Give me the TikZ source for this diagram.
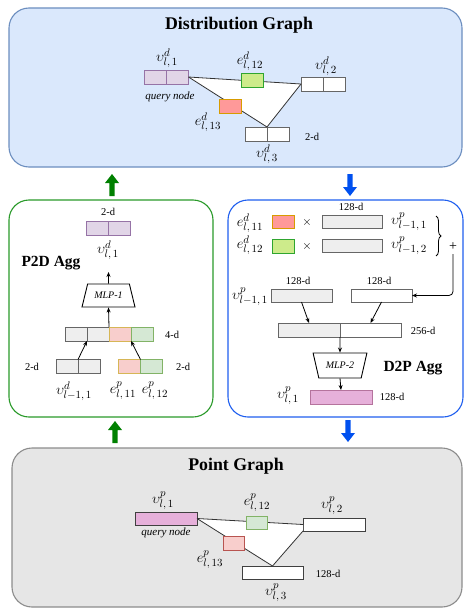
\documentclass[tikz,border=0pt]{standalone}
\usepackage{fontspec}
\setmainfont{Liberation Serif}
\usetikzlibrary{arrows.meta,shapes.geometric,decorations.pathreplacing}
\definecolor{dgfill}{HTML}{DAE8FC}
\definecolor{dgdraw}{HTML}{6C8EBF}
\definecolor{pgfill}{HTML}{E6E6E6}
\definecolor{pgdraw}{HTML}{8C8C8C}
\definecolor{purfill}{HTML}{E1D5E7}
\definecolor{purdraw}{HTML}{9673A6}
\definecolor{grnfill}{HTML}{CDEB8B}
\definecolor{grndraw}{HTML}{2FA52F}
\definecolor{redfill}{HTML}{FF9999}
\definecolor{reddraw}{HTML}{D79B00}
\definecolor{lgrfill}{HTML}{D5E8D4}
\definecolor{lgrdraw}{HTML}{82B366}
\definecolor{lrdfill}{HTML}{F8CECC}
\definecolor{lrddraw}{HTML}{B85450}
\definecolor{ylwdraw}{HTML}{D6B656}
\definecolor{gryfill}{HTML}{EEEEEE}
\definecolor{grydraw}{HTML}{666666}
\definecolor{pnkfill}{HTML}{E6B0DA}
\definecolor{pnkdraw}{HTML}{B5739D}
\definecolor{aggreen}{HTML}{2A9A2A}
\definecolor{agblue}{HTML}{1F5FEF}
\definecolor{arrgreen}{HTML}{008000}
\definecolor{arrblue}{HTML}{0050EF}
\tikzset{
  panel/.style={draw, rounded corners=20pt, line width=1.1pt, inner sep=0pt},
  cell/.style={draw, inner sep=0pt, outer sep=0pt, minimum height=14pt, line width=0.9pt},
  lbl/.style={inner sep=0pt, font=\fontsize{15}{15}\selectfont},
  dimtxt/.style={inner sep=0pt, font=\fontsize{10.5}{10.5}\selectfont},
  qtxt/.style={inner sep=0pt, font=\fontsize{11}{11}\selectfont\itshape},
  title/.style={inner sep=0pt, font=\fontsize{17.8}{17.8}\selectfont\bfseries},
  aggtitle/.style={inner sep=0pt, font=\fontsize{15.5}{15.5}\selectfont\bfseries},
  mlp/.style={draw, trapezium, trapezium stretches=true, inner sep=0pt, line width=0.9pt,
    font=\fontsize{10}{10}\selectfont\itshape},
  edgeline/.style={line width=0.8pt, draw=black!80},
  conn/.style={-{Stealth[length=5pt,width=4pt]}, line width=0.8pt},
  blockarrow/.pic={\fill (-2.6,0) -- (-2.6,-13) -- (-7,-13) -- (0,-22) -- (7,-13) -- (2.6,-13) -- (2.6,0) -- cycle;}
}
\begin{document}
\begin{tikzpicture}[x=1pt,y=-1pt]
\useasboundingbox (0,0) rectangle (473,615);

% ---------- panels ----------
\node[panel, fill=dgfill, draw=dgdraw, minimum width=453pt, minimum height=159pt] (dg) at (235.5,87.5) {};
\node[panel, draw=aggreen, fill=white, minimum width=204pt, minimum height=217pt] (p2d) at (111,308.5) {};
\node[panel, draw=agblue, fill=white, minimum width=235pt, minimum height=217pt] (d2p) at (345.5,308.5) {};
\node[panel, fill=pgfill, draw=pgdraw, minimum width=450pt, minimum height=159pt] (pg) at (237,527.5) {};

% ---------- block arrows ----------
\pic[color=arrgreen] at (112,196) {blockarrow};
\pic[color=arrblue, rotate=180] at (350,174) {blockarrow};
\pic[color=arrgreen] at (115,443) {blockarrow};
\pic[color=arrblue, rotate=180] at (348,420) {blockarrow};

% ---------- Distribution graph ----------
\node[title] (dgt) at (239,25) {Distribution Graph};
\node[cell, fill=purfill, draw=purdraw, minimum width=22pt] (dv1a) at (155.5,77) {};
\node[cell, fill=purfill, draw=purdraw, minimum width=22pt] (dv1b) at (177.5,77) {};
\node[cell, fill=white, draw=grydraw, minimum width=22pt] (dv2a) at (312,84) {};
\node[cell, fill=white, draw=grydraw, minimum width=22pt] (dv2b) at (334,84) {};
\node[cell, fill=white, draw=grydraw, minimum width=22pt] (dv3a) at (256,134) {};
\node[cell, fill=white, draw=grydraw, minimum width=22pt] (dv3b) at (278,134) {};
\fill[white] (dv1b.east) -- (dv2a.west) -- (dv3a.north east) -- cycle;
\draw[edgeline] (dv1b.east) -- (dv2a.west);
\draw[edgeline] (dv1b.east) -- (dv3a.north east);
\draw[edgeline] (dv2a.west) -- (dv3a.north east);
\node[cell, fill=grnfill, draw=grndraw, minimum width=22pt] (de12) at (252,80) {};
\node[cell, fill=redfill, draw=reddraw, minimum width=22pt] (de13) at (230,106) {};
\node[lbl] (ldv1) at (167,58) {$\upsilon^{d}_{l,\,1}$};
\node[lbl] (lde12) at (250,61) {$e^{d}_{l,\,12}$};
\node[lbl] (ldv2) at (326,66) {$\upsilon^{d}_{l,\,2}$};
\node[lbl] (lde13) at (208,122) {$e^{d}_{l,\,13}$};
\node[lbl] (ldv3) at (267,154) {$\upsilon^{d}_{l,\,3}$};
\node[dimtxt] (d2d) at (312,137) {2-d};
\node[qtxt] (dq) at (170,97) {query node};

% ---------- Point graph ----------
\node[title] (pgt) at (236,466) {Point Graph};
\node[cell, fill=pnkfill, draw=black!75, minimum width=62pt, minimum height=13pt] (pv1) at (166,518.5) {};
\node[cell, fill=white, draw=black!75, minimum width=62pt, minimum height=13pt] (pv2) at (334,524.5) {};
\node[cell, fill=white, draw=black!75, minimum width=61pt, minimum height=13pt] (pv3) at (272.5,572.5) {};
\fill[white] (pv1.east) -- (pv2.west) -- (pv2.south west) -- (pv3.north) -- cycle;
\draw[edgeline] (pv1.east) -- (pv2.west);
\draw[edgeline] (pv1.east) -- (pv3.north);
\draw[edgeline] (pv2.south west) -- (pv3.north);
\node[cell, fill=lgrfill, draw=lgrdraw, minimum width=21pt, minimum height=13pt] (pe12) at (256.5,522.5) {};
\node[cell, fill=lrdfill, draw=lrddraw, minimum width=21pt] (pe13) at (233.5,543) {};
\node[lbl] (lpv1) at (163,501) {$\upsilon^{p}_{l,\,1}$};
\node[lbl] (lpe12) at (257,503) {$e^{p}_{l,\,12}$};
\node[lbl] (lpv2) at (332,506) {$\upsilon^{p}_{l,\,2}$};
\node[lbl] (lpe13) at (210,560) {$e^{p}_{l,\,13}$};
\node[lbl] (lpv3) at (276,593) {$\upsilon^{p}_{l,\,3}$};
\node[dimtxt] (p128) at (328,574) {128-d};
\node[qtxt] (pq) at (166,533) {query node};

% ---------- P2D Agg ----------
\node[aggtitle] (p2dt) at (51,263) {P2D Agg};
\node[dimtxt] (a2d) at (108,212) {2-d};
\node[cell, fill=purfill, draw=purdraw, minimum width=22pt] (atop1) at (97,228) {};
\node[cell, fill=purfill, draw=purdraw, minimum width=22pt] (atop2) at (119,228) {};
\node[lbl] (latop) at (108,250) {$\upsilon^{d}_{l,\,1}$};
\node[mlp, minimum width=53pt, minimum height=23pt] (mlp1) at (108.5,295.5) {MLP-1};
\coordinate (mlp1out) at (108.5,272);
\node[cell, fill=gryfill, draw=grydraw, minimum width=22pt] (c1) at (76,334) {};
\node[cell, fill=gryfill, draw=grydraw, minimum width=22pt] (c2) at (98,334) {};
\node[cell, fill=lrdfill, draw=ylwdraw, minimum width=22pt] (c3) at (120,334) {};
\node[cell, fill=lgrfill, draw=lgrdraw, minimum width=22pt] (c4) at (142,334) {};
\node[dimtxt] (a4d) at (172,335) {4-d};
\node[cell, fill=gryfill, draw=grydraw, minimum width=22pt] (bl1) at (67,366.5) {};
\node[cell, fill=gryfill, draw=grydraw, minimum width=22pt] (bl2) at (89,366.5) {};
\node[cell, fill=lrdfill, draw=ylwdraw, minimum width=22pt] (br1) at (129.5,366.5) {};
\node[cell, fill=lgrfill, draw=lgrdraw, minimum width=22pt] (br2) at (151.5,366.5) {};
\node[dimtxt] (bl2d) at (32,367) {2-d};
\node[dimtxt] (br2d) at (183,367) {2-d};
\node[lbl] (lbl1) at (74,391) {$\upsilon^{d}_{l-1,\,1}$};
\node[lbl] (lbr1) at (123,391) {$e^{p}_{l,\,11}$};
\node[lbl] (lbr2) at (155,391) {$e^{p}_{l,\,12}$};
\draw[conn] (bl2.north west) -- (c1.south east);
\draw[conn] (br2.north west) -- (c3.south east);
\draw[conn] (c2.north east) -- (mlp1.south);
\draw[conn] (mlp1.north) -- (mlp1out);

% ---------- D2P Agg ----------
\node[aggtitle] (d2pt) at (413,368) {D2P Agg};
\node[dimtxt] (r128) at (351,207) {128-d};
\node[lbl] (lr1) at (250,223) {$e^{d}_{l,\,11}$};
\node[cell, fill=redfill, draw=reddraw, minimum width=22pt, minimum height=13pt] (rr1) at (283,222) {};
\node[inner sep=0pt, font=\fontsize{13}{13}\selectfont] (x1) at (307,222) {$\times$};
\node[cell, fill=gryfill, draw=grydraw, minimum width=60pt, minimum height=13pt] (rg1) at (352,221.5) {};
\node[lbl] (lrg1) at (409,222) {$\upsilon^{p}_{l-1,\,1}$};
\node[lbl] (lr2) at (250,245) {$e^{d}_{l,\,12}$};
\node[cell, fill=grnfill, draw=grndraw, minimum width=22pt] (rr2) at (283,246) {};
\node[inner sep=0pt, font=\fontsize{13}{13}\selectfont] (x2) at (307,246) {$\times$};
\node[cell, fill=gryfill, draw=grydraw, minimum width=60pt, minimum height=13pt] (rg2) at (352,246) {};
\node[lbl] (lrg2) at (409,246) {$\upsilon^{p}_{l-1,\,2}$};
\coordinate (brtop) at (436,216);
\coordinate (brbot) at (436,256);
\draw[line width=0.8pt, decorate, decoration={brace, amplitude=5pt}] (brtop) -- (brbot);
\node[inner sep=0pt, font=\fontsize{14}{14}\selectfont] (plus) at (453,247) {+};
\node[dimtxt] (s128a) at (298,281) {128-d};
\node[dimtxt] (s128b) at (379,281) {128-d};
\node[lbl] (lsg) at (250,297) {$\upsilon^{p}_{l-1,\,1}$};
\node[cell, fill=gryfill, draw=grydraw, minimum width=61pt, minimum height=13pt] (sg) at (301.5,295.5) {};
\node[cell, fill=white, draw=grydraw, minimum width=61pt, minimum height=13pt] (sw) at (381.5,295.5) {};
\draw[conn, rounded corners=4pt] (plus.south) ++(0,3) -- (453,295.5) -- (sw.east);
\node[cell, fill=gryfill, draw=grydraw, minimum width=62pt] (ca) at (309,330) {};
\node[cell, fill=white, draw=grydraw, minimum width=61pt] (cb) at (370.5,330) {};
\node[dimtxt] (c256) at (423,331) {256-d};
\draw[conn] (sg.south) -- (ca.north);
\draw[conn] (sw.south) -- (cb.north);
\node[mlp, shape border rotate=180, minimum width=54pt, minimum height=25pt] (mlp2) at (340,365.5) {MLP-2};
\draw[conn] (ca.south east) -- (mlp2.north);
\node[cell, fill=pnkfill, draw=pnkdraw, minimum width=62pt] (pk) at (341,397) {};
\draw[conn] (mlp2.south) -- (pk.north);
\node[lbl] (lpk) at (288,396) {$\upsilon^{p}_{l,\,1}$};
\node[dimtxt] (pk128) at (392,397) {128-d};
\end{tikzpicture}
\end{document}
